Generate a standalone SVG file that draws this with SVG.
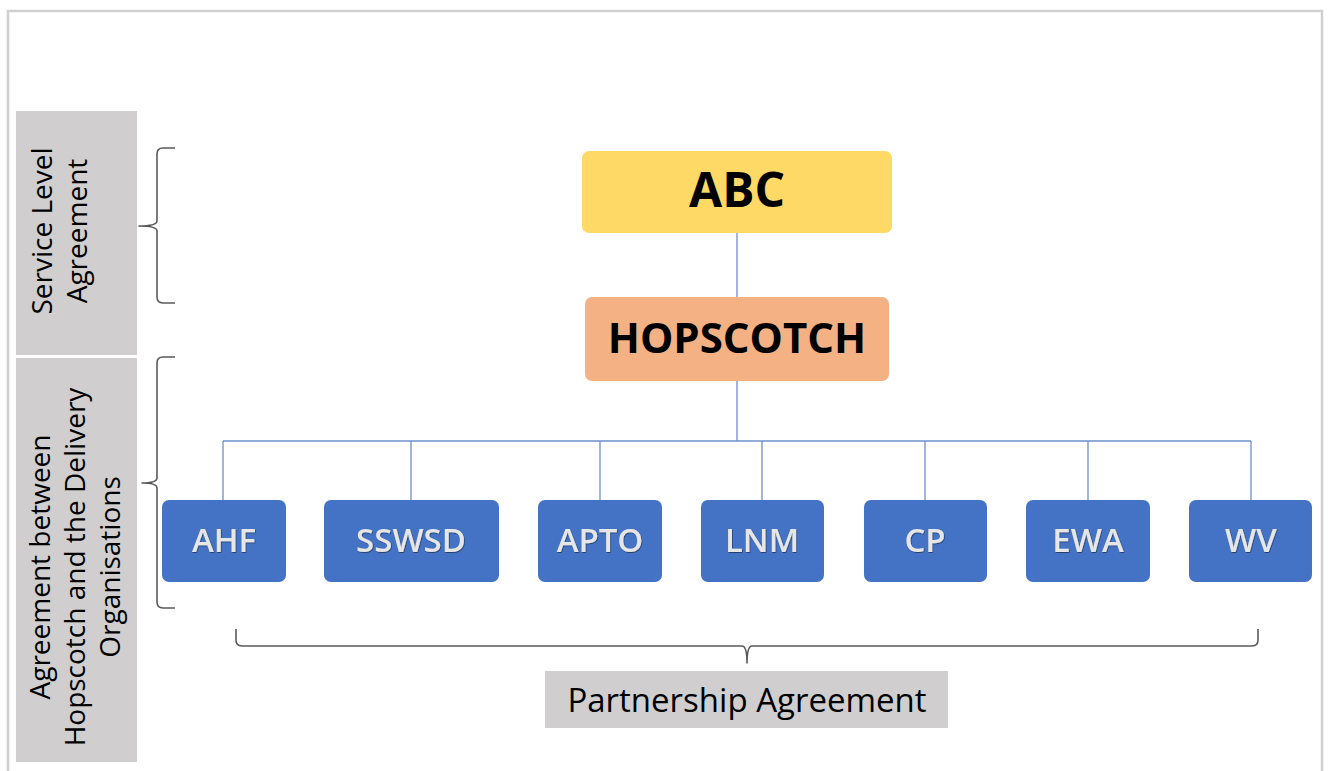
<svg xmlns="http://www.w3.org/2000/svg" width="1330" height="771" viewBox="0 0 1330 771">
<defs>
<style>
.frame{fill:none;stroke:#D0D0D0;stroke-width:2.5}
.side{fill:#D0CECE}
.side-t{font-family:"Open Sans","Liberation Sans",sans-serif;font-size:28px;fill:#000;text-anchor:middle}
.brace{fill:none;stroke:#595959;stroke-width:1.6;stroke-linejoin:round}
.conn{fill:none;stroke:#6E8FCB;stroke-width:1.3}
.blue{fill:#4472C4}
.blue-t{font-family:"Open Sans","Liberation Sans",sans-serif;font-size:33px;font-weight:600;fill:#E7E6E6;text-anchor:middle;filter:url(#sh)}
.big-t{font-family:"Open Sans","Liberation Sans",sans-serif;font-weight:700;fill:#000;text-anchor:middle}
.pa-t{font-family:"Open Sans","Liberation Sans",sans-serif;font-size:33px;fill:#000;text-anchor:middle}
</style>
<filter id="sh" x="-10%" y="-20%" width="120%" height="140%">
<feDropShadow dx="0.6" dy="0.8" stdDeviation="0.6" flood-color="#000" flood-opacity="0.55"/>
</filter>
</defs>
<rect width="1330" height="771" fill="#FFFFFF"/>
<rect class="frame" x="8" y="11" width="1314" height="780"/>

<g id="side-sla">
<rect class="side" x="16" y="111" width="121" height="244"/>
<text class="side-t" transform="translate(52,231) rotate(-90)">Service Level</text>
<text class="side-t" transform="translate(87,231) rotate(-90)">Agreement</text>
</g>
<g id="side-delivery">
<rect class="side" x="16" y="358" width="121" height="404"/>
<text class="side-t" transform="translate(50,567) rotate(-90)">Agreement between</text>
<text class="side-t" transform="translate(85,567) rotate(-90)">Hopscotch and the Delivery</text>
<text class="side-t" transform="translate(120,567) rotate(-90)">Organisations</text>
</g>

<g id="braces">
<path class="brace" d="M175,148 L163,148 Q157,148 157,154 L157,221 Q157,226 139,226 Q157,226 157,231 L157,297 Q157,303 163,303 L175,303"/>
<path class="brace" d="M175,357 L163,357 Q157,357 157,363 L157,478 Q157,483 142,483 Q157,483 157,488 L157,602 Q157,608 163,608 L175,608"/>
<path class="brace" d="M236,629 L236,640 Q236,646 242,646 L742,646 Q747,646 747,663 Q747,646 752,646 L1252,646 Q1258,646 1258,640 L1258,629"/>
</g>

<g id="connectors">
<line class="conn" x1="737" y1="233" x2="737" y2="297"/>
<line class="conn" x1="737" y1="381" x2="737" y2="441"/>
<line class="conn" x1="223" y1="441" x2="1251" y2="441"/>
<line class="conn" x1="223" y1="441" x2="223" y2="500"/>
<line class="conn" x1="411" y1="441" x2="411" y2="500"/>
<line class="conn" x1="600" y1="441" x2="600" y2="500"/>
<line class="conn" x1="762" y1="441" x2="762" y2="500"/>
<line class="conn" x1="925" y1="441" x2="925" y2="500"/>
<line class="conn" x1="1088" y1="441" x2="1088" y2="500"/>
<line class="conn" x1="1251" y1="441" x2="1251" y2="500"/>
</g>

<g id="node-abc">
<rect x="582" y="151" width="310" height="82" rx="7" fill="#FFD966"/>
<text class="big-t" x="737" y="207" font-size="48">ABC</text>
</g>
<g id="node-hopscotch">
<rect x="585" y="297" width="304" height="84" rx="7" fill="#F4B183"/>
<text class="big-t" x="737" y="353" font-size="42">HOPSCOTCH</text>
</g>

<g id="node-ahf"><rect class="blue" x="162" y="500" width="124" height="82" rx="7"/><text class="blue-t" x="224" y="552">AHF</text></g>
<g id="node-sswsd"><rect class="blue" x="324" y="500" width="175" height="82" rx="7"/><text class="blue-t" x="411" y="552">SSWSD</text></g>
<g id="node-apto"><rect class="blue" x="538" y="500" width="124" height="82" rx="7"/><text class="blue-t" x="600" y="552">APTO</text></g>
<g id="node-lnm"><rect class="blue" x="701" y="500" width="123" height="82" rx="7"/><text class="blue-t" x="762" y="552">LNM</text></g>
<g id="node-cp"><rect class="blue" x="864" y="500" width="123" height="82" rx="7"/><text class="blue-t" x="925" y="552">CP</text></g>
<g id="node-ewa"><rect class="blue" x="1026" y="500" width="124" height="82" rx="7"/><text class="blue-t" x="1088" y="552">EWA</text></g>
<g id="node-wv"><rect class="blue" x="1189" y="500" width="123" height="82" rx="7"/><text class="blue-t" x="1251" y="552">WV</text></g>

<g id="label-partnership">
<rect class="side" x="545" y="671" width="403" height="57"/>
<text class="pa-t" x="747" y="712">Partnership Agreement</text>
</g>
</svg>
